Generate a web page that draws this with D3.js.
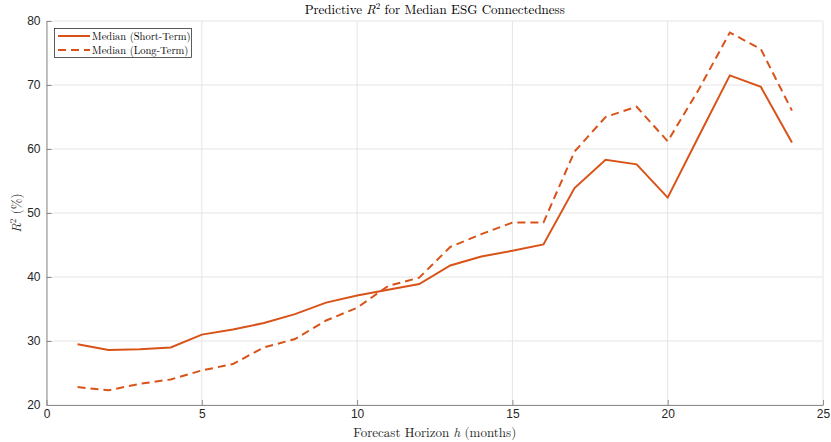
<!DOCTYPE html>
<html><head><meta charset="utf-8">
<script src="https://cdn.jsdelivr.net/npm/d3@7"></script>
<style>body{margin:0;background:#fff}</style>
</head><body>
<svg id="c" width="831" height="442"></svg>
<script>
const horizons = d3.range(1, 25);
const shortTerm = [29.5,28.6,28.7,29.0,31.0,31.8,32.8,34.2,36.0,37.1,38.0,38.9,41.8,43.2,44.1,45.1,53.9,58.3,57.6,52.4,62.0,71.5,69.7,61.0];
const longTerm  = [22.8,22.3,23.3,24.0,25.4,26.4,29.0,30.3,33.2,35.2,38.6,39.9,44.7,46.7,48.5,48.5,59.6,65.0,66.6,61.2,69.3,78.2,75.6,66.0];
const xTicks = [0,5,10,15,20,25];
const yTicks = [20,30,40,50,60,70,80];

const svg = d3.select("#c");
const L = 46.5, R = 823, T = 21, B = 405;
const x = d3.scaleLinear().domain([0,25]).range([L,R]);
const y = d3.scaleLinear().domain([20,80]).range([B,T]);
const color = "#D95319";
const serif = "'Latin Modern Roman','CMU Serif','Liberation Serif','DejaVu Serif',serif";
const sans = "'Liberation Sans',Arial,sans-serif";

// grid
const g = svg.append("g");
g.selectAll(".gx").data(xTicks).enter().append("line")
  .attr("x1", d=>x(d)).attr("x2", d=>x(d)).attr("y1", T).attr("y2", B)
  .attr("stroke", "#e5e5e5").attr("stroke-width", 1);
g.selectAll(".gy").data(yTicks).enter().append("line")
  .attr("x1", L).attr("x2", R).attr("y1", d=>y(d)).attr("y2", d=>y(d))
  .attr("stroke", "#e5e5e5").attr("stroke-width", 1);

// axes
const xa = svg.append("g").attr("transform", `translate(0,${B})`)
  .call(d3.axisBottom(x).tickValues(xTicks).tickSizeInner(-5).tickSizeOuter(0).tickPadding(4));
const ya = svg.append("g").attr("transform", `translate(${L},0)`)
  .call(d3.axisLeft(y).tickValues(yTicks).tickSizeInner(-5).tickSizeOuter(0).tickPadding(6));
[xa, ya].forEach(a => {
  a.select(".domain").attr("stroke", "#8c8c8c");
  a.selectAll(".tick line").attr("stroke", "#8c8c8c");
  a.selectAll(".tick text").attr("fill", "#262626").style("font-family", sans).style("font-size", "12px");
});

// lines
const line = d3.line().x((d,i)=>x(horizons[i])).y(d=>y(d));
svg.append("path").datum(shortTerm).attr("d", line)
  .attr("fill","none").attr("stroke",color).attr("stroke-width",2);
svg.append("path").datum(longTerm).attr("d", line)
  .attr("fill","none").attr("stroke",color).attr("stroke-width",2).attr("stroke-dasharray","8,5");

// title
const title = svg.append("text").attr("x", (L+R)/2).attr("y", 14).attr("text-anchor","middle")
  .style("font-family", serif).style("font-size","13px").attr("fill","#000");
title.append("tspan").text("Predictive ");
title.append("tspan").text("R").style("font-style","italic");
title.append("tspan").text("2").attr("dy",-5).style("font-size","9px");
title.append("tspan").text(" for Median ESG Connectedness").attr("dy",5);

// x label
const xl = svg.append("text").attr("x", (L+R)/2).attr("y", 437).attr("text-anchor","middle")
  .style("font-family", serif).style("font-size","13px").attr("fill","#262626");
xl.append("tspan").text("Forecast Horizon ");
xl.append("tspan").text("h").style("font-style","italic");
xl.append("tspan").text(" (months)");

// y label
const yl = svg.append("text").attr("transform", `translate(21,${(T+B)/2}) rotate(-90)`).attr("text-anchor","middle")
  .style("font-family", serif).style("font-size","13px").attr("fill","#262626");
yl.append("tspan").text("R").style("font-style","italic");
yl.append("tspan").text("2").attr("dy",-5).style("font-size","9px");
yl.append("tspan").text(" (%)").attr("dy",5);

// legend
const lg = svg.append("g");
lg.append("rect").attr("x",54.5).attr("y",28.5).attr("width",137).attr("height",29)
  .attr("fill","#fff").attr("stroke","#262626").attr("stroke-width",0.75);
const items = [{name:"Median (Short-Term)", dash:null},{name:"Median (Long-Term)", dash:"8,5"}];
items.forEach((it,i)=>{
  const yy = 36 + i*14;
  lg.append("line").attr("x1",58).attr("x2",90).attr("y1",yy).attr("y2",yy)
    .attr("stroke",color).attr("stroke-width",2).attr("stroke-dasharray",it.dash);
  lg.append("text").attr("x",92).attr("y",yy+3.5).text(it.name)
    .style("font-family",serif).style("font-size","10.5px").attr("fill","#000");
});
</script>
</body></html>
